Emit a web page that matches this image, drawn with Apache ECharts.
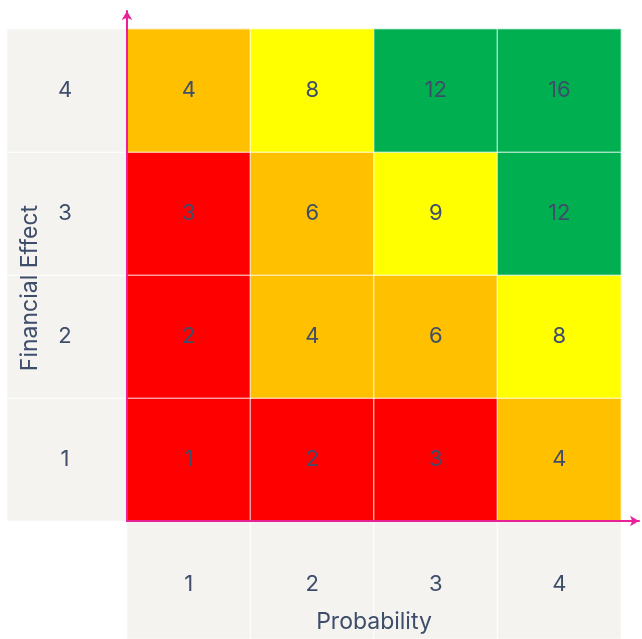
<!DOCTYPE html>
<html>
<head>
<meta charset="utf-8">
<script src="https://cdn.jsdelivr.net/npm/echarts@6/dist/echarts.min.js"></script>
<style>
  html, body { margin: 0; padding: 0; background: #ffffff; }
  #chart { width: 642px; height: 639px; }
</style>
</head>
<body>
<div id="chart"></div>
<script>
// Risk matrix: probability (columns) against financial effect (rows)
const probability = ['1', '2', '3', '4'];
const financialEffect = ['1', '2', '3', '4'];

// Risk scores, one row per financial effect level (1 at the bottom)
const scoreEffect1 = [1, 2, 3, 4];
const scoreEffect2 = [2, 4, 6, 8];
const scoreEffect3 = [3, 6, 9, 12];
const scoreEffect4 = [4, 8, 12, 16];
const scoreRows = [scoreEffect1, scoreEffect2, scoreEffect3, scoreEffect4];

const textColor = '#3E4D6A';
const axisColor = '#E8219A';
const labelFill = '#F4F3F0';
const fontFamily = 'Inter, "Noto Sans", sans-serif';
const numSize = 22;
const nameSize = 23;

const cells = [];
scoreRows.forEach((row, yi) => {
  row.forEach((v, xi) => cells.push([xi, yi, v]));
});

const leftCells = financialEffect.map((c, i) => [0, i, c]);
const bottomCells = probability.map((c, i) => [i, 0, c]);

const GRID_L = 127, GRID_R = 21, GRID_T = 29, GRID_B = 118;

const chart = echarts.init(document.getElementById('chart'), null, { renderer: 'canvas' });

const hiddenCat = (data, extra) => Object.assign({
  type: 'category', data: data,
  axisLine: { show: false }, axisTick: { show: false },
  axisLabel: { show: false }, splitLine: { show: false }
}, extra || {});

const arrowAxis = {
  type: 'value', gridIndex: 3, min: 0, max: 1, z: 10,
  axisLine: { show: true, symbol: ['none', 'arrow'], symbolSize: [8, 9],
    lineStyle: { color: axisColor, width: 2 } },
  axisTick: { show: false }, axisLabel: { show: false }, splitLine: { show: false }
};

const noBounds = { outerBoundsMode: 'none', containLabel: false };

chart.setOption({
  animation: false,
  grid: [
    Object.assign({ left: GRID_L, right: GRID_R, top: GRID_T, bottom: GRID_B }, noBounds),
    Object.assign({ left: 7, width: GRID_L - 7, top: GRID_T, bottom: GRID_B }, noBounds),
    Object.assign({ left: GRID_L, right: GRID_R, top: 639 - GRID_B, height: GRID_B }, noBounds),
    Object.assign({ left: GRID_L, right: 3, top: 11, bottom: GRID_B }, noBounds)
  ],
  xAxis: [
    hiddenCat(probability, {
      gridIndex: 0, z: 10,
      name: 'Probability', nameLocation: 'middle', nameGap: 90,
      nameTextStyle: { color: textColor, fontSize: nameSize, fontFamily: fontFamily }
    }),
    hiddenCat(['x'], { gridIndex: 1 }),
    hiddenCat(probability, { gridIndex: 2 }),
    Object.assign({}, arrowAxis)
  ],
  yAxis: [
    hiddenCat(financialEffect, {
      gridIndex: 0, z: 10,
      name: 'Financial Effect', nameLocation: 'middle', nameGap: 85, nameRotate: 90,
      nameTextStyle: { color: textColor, fontSize: nameSize, fontFamily: fontFamily, padding: [0, 26, 0, 0] }
    }),
    hiddenCat(financialEffect, { gridIndex: 1 }),
    hiddenCat(['y'], { gridIndex: 2 }),
    Object.assign({}, arrowAxis)
  ],
  visualMap: {
    type: 'piecewise', show: false, seriesIndex: 0, dimension: 2,
    pieces: [
      { min: 1, max: 3, color: '#FF0000' },
      { min: 4, max: 7, color: '#FFC000' },
      { min: 8, max: 11, color: '#FFFF00' },
      { min: 12, max: 16, color: '#00B050' }
    ]
  },
  series: [
    {
      type: 'heatmap', xAxisIndex: 0, yAxisIndex: 0, data: cells,
      itemStyle: { borderColor: 'rgba(255,255,255,0.55)', borderWidth: 1.5 },
      label: { show: true, color: textColor, fontSize: numSize, fontFamily: fontFamily,
        formatter: p => String(p.value[2]) },
      emphasis: { disabled: true }
    },
    {
      type: 'heatmap', xAxisIndex: 1, yAxisIndex: 1, data: leftCells,
      itemStyle: { color: labelFill, borderColor: '#ffffff', borderWidth: 1 },
      label: { show: true, color: textColor, fontSize: numSize, fontFamily: fontFamily,
        offset: [-2, 0], formatter: p => p.value[2] },
      emphasis: { disabled: true }
    },
    {
      type: 'heatmap', xAxisIndex: 2, yAxisIndex: 2, data: bottomCells,
      itemStyle: { color: labelFill, borderColor: '#ffffff', borderWidth: 1 },
      label: { show: true, color: textColor, fontSize: numSize, fontFamily: fontFamily,
        offset: [0, 4], formatter: p => p.value[2] },
      emphasis: { disabled: true }
    }
  ]
});
</script>
</body>
</html>
